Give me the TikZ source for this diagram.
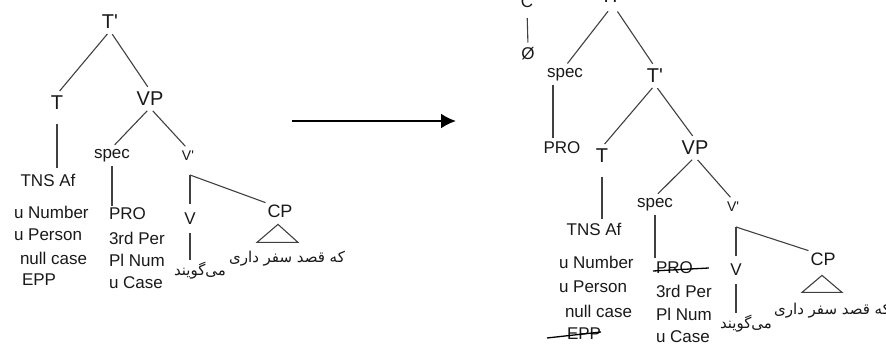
\documentclass[tikz,border=0pt]{standalone}
\usepackage{fontspec}
\setmainfont{Liberation Sans}
\newfontfamily\farsi[Script=Arabic]{DejaVu Sans}
\TeXXeTstate=1
\usetikzlibrary{arrows.meta,calc}

\newcommand{\prm}{\textquotesingle}

\begin{document}
\begin{tikzpicture}[x=1pt,y=-1pt,
  lbl/.style={inner sep=0pt, outer sep=2pt, text=black!90},
  big/.style={lbl, font=\fontsize{20}{22}\selectfont},
  mid/.style={lbl, font=\fontsize{17}{19}\selectfont},
  cpst/.style={lbl, font=\fontsize{18}{20}\selectfont},
  small/.style={lbl, font=\fontsize{14}{16}\selectfont},
  feat/.style={lbl, anchor=west, font=\fontsize{17}{19}\selectfont},
  fa/.style={lbl, font=\fontsize{15}{17}\farsi},
  edge/.style={draw=black!75, line width=1.1pt, shorten <=4pt, shorten >=4pt},
  vedge/.style={draw=black!75, line width=1.1pt},
  strike/.style={draw=black, line width=1.3pt},
  bigarrow/.style={draw=black, line width=2.2pt, -{Latex[length=15pt,width=15pt]}}
]
\useasboundingbox (0,0) rectangle (886,347);

% ---------------- left tree ----------------
\node[big] (tpA) at (110,22) {T\prm};
\node[big] (tA) at (57,103) {T};
\node[big] (vpA) at (150,99) {VP};
\node[mid] (tnsA) at (48,180) {TNS Af};
\node[mid] (specA) at (112,156) {spec};
\node[small] (vbA) at (188,156) {V\prm};
\coordinate (kA) at (190,175);
\node[mid] (vA) at (190,219) {V};
\node[cpst] (cpA) at (280,211) {CP};

\node[feat] (numA) at (12,212) {u Number};
\node[feat] (perA) at (12,235) {u Person};
\node[feat] (caseA) at (18,258) {null case};
\node[feat] (eppA) at (20,280) {EPP};

\node[feat] (proA) at (107,214) {PRO};
\node[feat] (thrA) at (107,238) {3rd Per};
\node[feat] (plA) at (107,260) {Pl Num};
\node[feat] (ucA) at (107,283) {u Case};

\node[fa] (clA) at (287,259) {\beginR که قصد سفر داری\endR};
\node[fa] (goA) at (200,271) {\beginR می‌گویند\endR};

\draw[edge] (tpA.south) -- (tA.north);
\draw[edge] (tpA.south) -- (vpA.north);
\draw[vedge, shorten <=12pt, shorten >=4pt] (tA.south) -- (tA.south |- tnsA.north);
\draw[edge] (vpA.south) -- (specA.north);
\draw[edge] (vpA.south) -- (vbA.north);
\draw[vedge, shorten <=2pt] (specA.south) -- (specA.south |- proA.north);
\draw[vedge, shorten >=7pt] (kA) -- (vA.north);
\draw[vedge] (kA) -- (cpA.north west);
\draw[vedge, shorten <=6pt] (vA.south) -- (vA.south |- goA.north);
\draw[vedge] ($(cpA.south)+(-2,5)$) -- ++(-21,18) -- ++(41,0) -- cycle;

% ---------------- arrow ----------------
\coordinate (arrS) at (292,121);
\coordinate (arrE) at (456,121);
\draw[bigarrow] (arrS) -- (arrE);

% ---------------- right tree ----------------
\node[big] (tpR) at (613,-4) {TP};
\node[mid] (cR) at (527,2) {C};
\node[mid] (nullR) at (528,54) {Ø};
\node[mid] (specR1) at (565,75) {spec};
\node[big] (tbR) at (655,76) {T\prm};
\node[mid] (proR1) at (562,148) {PRO};
\node[big] (tR) at (602,156) {T};
\node[big] (vpR) at (695,148) {VP};
\node[mid] (tnsR) at (594,229) {TNS Af};
\node[mid] (specR2) at (655,205) {spec};
\node[small] (vbR) at (733,207) {V\prm};
\coordinate (kR) at (736,227);
\node[mid] (vR) at (736,270) {V};
\node[cpst] (cpR) at (823,259) {CP};

\node[feat] (numR) at (557,262) {u Number};
\node[feat] (perR) at (557,287) {u Person};
\node[feat] (caseR) at (563,311) {null case};
\node[feat] (eppR) at (565,334) {EPP};

\node[feat] (proR2) at (654,268) {PRO};
\node[feat] (thrR) at (654,291) {3rd Per};
\node[feat] (plR) at (654,314) {Pl Num};
\node[feat] (ucR) at (654,337) {u Case};

\node[fa] (clR) at (832,311) {\beginR که قصد سفر داری\endR};
\node[fa] (goR) at (746,324) {\beginR می‌گویند\endR};

\draw[vedge, shorten <=8pt, shorten >=3pt] (cR.south) -- (nullR.north);
\draw[edge, shorten <=8pt] (tpR.south) -- (specR1.north);
\draw[edge, shorten <=8pt] (tpR.south) -- (tbR.north);
\draw[vedge, shorten <=2pt, shorten >=2pt] ([xshift=-12pt]specR1.south) -- ([xshift=-9pt]proR1.north);
\draw[edge] (tbR.south) -- (tR.north);
\draw[edge] (tbR.south) -- (vpR.north);
\draw[vedge, shorten <=12pt, shorten >=2pt] (tR.south) -- (tR.south |- tnsR.north);
\draw[edge] (vpR.south) -- (specR2.north);
\draw[edge] (vpR.south) -- (vbR.north);
\draw[vedge, shorten <=2pt, shorten >=2pt] (specR2.south) -- (specR2.south |- proR2.north);
\draw[vedge, shorten >=6pt] (kR) -- (vR.north);
\draw[vedge] (kR) -- (cpR.north west);
\draw[vedge, shorten <=6pt] (vR.south) -- (vR.south |- goR.north);
\draw[vedge] ($(cpR.south)+(-1,8)$) -- ++(-20,17) -- ++(40,0) -- cycle;

% struck-out features
\draw[strike] ($(proR2.west)+(-1,3)$) -- ($(proR2.east)+(14,0)$);
\draw[strike] ($(eppR.west)+(-18,4)$) -- ($(eppR.east)+(-2,-2)$);
\end{tikzpicture}
\end{document}
